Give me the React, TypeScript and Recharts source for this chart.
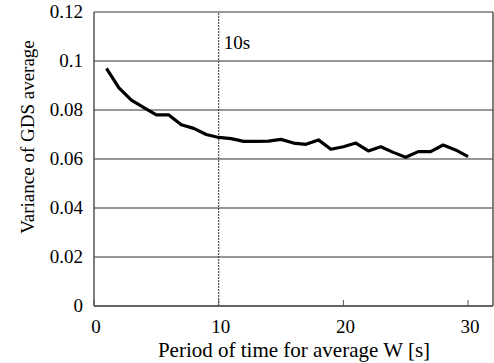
import React from "react";
import {
	LineChart,
	Line,
	XAxis,
	YAxis,
	CartesianGrid,
	ReferenceLine,
	Label,
} from "recharts";

// window size W [s]
const periods = [
	1, 2, 3, 4, 5, 6, 7, 8, 9, 10, 11, 12, 13, 14, 15, 16, 17, 18, 19, 20, 21, 22,
	23, 24, 25, 26, 27, 28, 29, 30,
];
// variance of GDS average
const variance = [
	0.097, 0.089, 0.084, 0.081, 0.078, 0.078, 0.074, 0.0725, 0.07, 0.0688,
	0.0683, 0.0672, 0.0672, 0.0673, 0.068, 0.0665, 0.066, 0.0678, 0.064, 0.065,
	0.0665, 0.0633, 0.065, 0.0627, 0.0607, 0.063, 0.063, 0.0657, 0.0637, 0.061,
];
const xTicks = [0, 10, 20, 30];
const yTicks = [0, 0.02, 0.04, 0.06, 0.08, 0.1, 0.12];
const markerX = 10;
const markerText = "10s";

const data = periods.map((p, i) => ({ w: p, v: variance[i] }));

const FONT = "'Liberation Serif', 'DejaVu Serif', serif";
const txt = { fontFamily: FONT, fontSize: 19, fill: "#000" };

const XTick = (props: any) => {
	const { x, y, payload } = props;
	return (
		<g>
			<line x1={x} y1={y} x2={x} y2={y - 6} stroke="#555" strokeWidth={1} />
			<text x={x + 2} y={y + 27} textAnchor="middle" style={txt}>
				{payload.value}
			</text>
		</g>
	);
};

const YTick = (props: any) => {
	const { x, y, payload } = props;
	return (
		<text x={x} y={y + 6} textAnchor="end" style={txt}>
			{payload.value}
		</text>
	);
};

export default function App() {
	return (
		<div
			style={{
				position: "absolute",
				left: 0,
				top: 0,
				background: "#fff",
				fontFamily: FONT,
			}}
		>
			<LineChart
				width={494}
				height={363}
				data={data}
				margin={{ top: 12, right: 1, bottom: 0, left: 0 }}
			>
				<CartesianGrid vertical={false} stroke="#333" strokeWidth={1.2} />
				<XAxis
					dataKey="w"
					type="number"
					domain={[0, 32]}
					ticks={xTicks}
					height={57}
					tickSize={0}
					tickMargin={0}
					tickLine={false}
					axisLine={{ stroke: "#555", strokeWidth: 1.5 }}
					tick={<XTick />}
				>
					<Label
						content={() => (
							<text
								x={294}
								y={357}
								textAnchor="middle"
								style={{ ...txt, fontSize: 21 }}
							>
								Period of time for average W [s]
							</text>
						)}
					/>
				</XAxis>
				<YAxis
					type="number"
					domain={[0, 0.12]}
					ticks={yTicks}
					width={94}
					tickLine={false}
					tickSize={0}
					tickMargin={11}
					axisLine={{ stroke: "#555", strokeWidth: 1.5 }}
					tick={<YTick />}
				>
					<Label
						content={() => (
							<text
								x={0}
								y={0}
								transform="translate(34,137) rotate(-90)"
								textAnchor="middle"
								style={txt}
							>
								Variance of GDS average
							</text>
						)}
					/>
				</YAxis>
				<ReferenceLine x={32} stroke="#555" strokeWidth={1.5} />
				<ReferenceLine
					x={markerX}
					stroke="#333"
					strokeWidth={1}
					strokeDasharray="2 1"
				>
					<Label
						content={(p: any) => (
							<text x={p.viewBox.x + 5} y={p.viewBox.y + 37} style={txt}>
								{markerText}
							</text>
						)}
					/>
				</ReferenceLine>
				<Line
					type="linear"
					dataKey="v"
					stroke="#000"
					strokeWidth={3.2}
					strokeLinejoin="round"
					dot={false}
					isAnimationActive={false}
				/>
			</LineChart>
		</div>
	);
}
